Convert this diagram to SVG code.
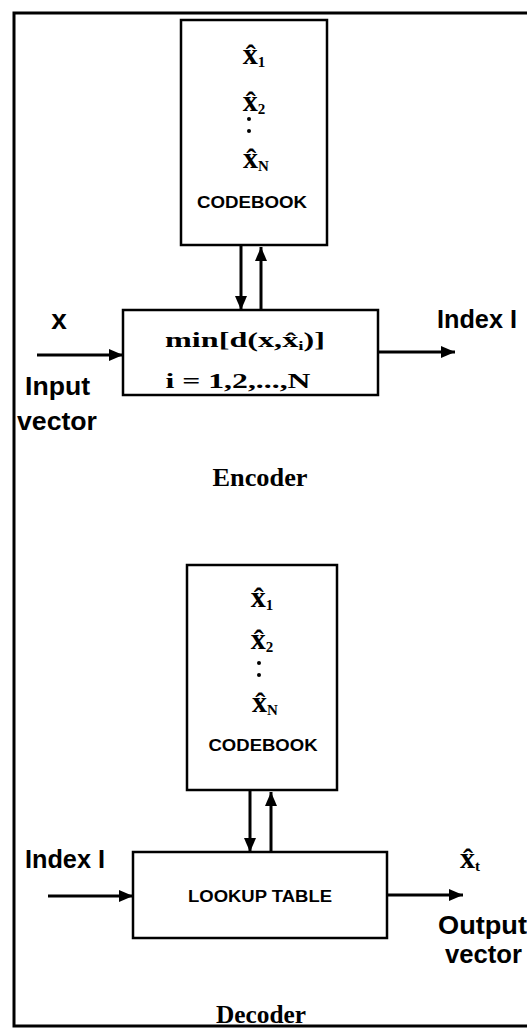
<svg xmlns="http://www.w3.org/2000/svg" width="527" height="1028" viewBox="0 0 527 1028">
<style>
.box{fill:#fff;stroke:#000;stroke-width:2.5}
.wire{stroke:#000;stroke-width:3;fill:none}
.sans{font-family:"Liberation Sans",Arial,sans-serif;font-weight:bold;fill:#000}
.serif{font-family:"Liberation Serif","Times New Roman",serif;font-weight:bold;fill:#000}
.small{font-family:"Liberation Sans",Arial,sans-serif;font-weight:bold;font-size:16px;fill:#000}
.cb{font-family:"Liberation Serif","Times New Roman",serif;font-weight:bold;font-size:30px;fill:#000}
.sub{font-size:15px}
</style>
<defs>
<marker id="ah" viewBox="0 0 14 12" refX="14" refY="6" markerWidth="14" markerHeight="12" markerUnits="userSpaceOnUse" orient="auto">
<path d="M0,0 L14,6 L0,12 Z" fill="#000"/>
</marker>
</defs>
<rect width="527" height="1028" fill="#fff"/>
<path d="M527 13 H14 V1026 H527" fill="none" stroke="#000" stroke-width="3"/>

<g id="enc-codebook">
<rect class="box" x="181" y="20" width="146" height="225"/>
<text class="cb" x="254" y="64" text-anchor="middle">x̂<tspan class="sub" dy="3">1</tspan></text>
<text class="cb" x="254" y="111" text-anchor="middle">x̂<tspan class="sub" dy="3">2</tspan></text>
<circle cx="249" cy="119" r="2"/>
<circle cx="249" cy="131" r="2"/>
<text class="cb" x="256" y="168" text-anchor="middle">x̂<tspan class="sub" dy="3">N</tspan></text>
<text class="small" x="252" y="208" text-anchor="middle" textLength="110" lengthAdjust="spacingAndGlyphs">CODEBOOK</text>
</g>

<g id="enc-box">
<rect class="box" x="123" y="310" width="255" height="85"/>
<text class="serif" x="245" y="347" font-size="22" text-anchor="middle" textLength="160" lengthAdjust="spacingAndGlyphs">min[d(x,x̂<tspan font-size="13" dy="3">i</tspan><tspan dy="-3">)]</tspan></text>
<text class="serif" x="238" y="388" font-size="22" text-anchor="middle" textLength="145" lengthAdjust="spacingAndGlyphs">i = 1,2,...,N</text>
</g>

<g id="enc-labels">
<text class="sans" x="59" y="329" font-size="28" text-anchor="middle">x</text>
<text class="sans" x="25" y="395" font-size="26" textLength="65" lengthAdjust="spacingAndGlyphs">Input</text>
<text class="sans" x="17" y="430" font-size="26" textLength="80" lengthAdjust="spacingAndGlyphs">vector</text>
<text class="sans" x="437" y="328" font-size="26" textLength="80" lengthAdjust="spacingAndGlyphs">Index I</text>
<text class="serif" x="260" y="486" font-size="26" text-anchor="middle" textLength="95" lengthAdjust="spacingAndGlyphs">Encoder</text>
</g>

<g id="dec-codebook">
<rect class="box" x="187" y="565" width="150" height="225"/>
<text class="cb" x="262" y="607" text-anchor="middle">x̂<tspan class="sub" dy="3">1</tspan></text>
<text class="cb" x="262" y="649" text-anchor="middle">x̂<tspan class="sub" dy="3">2</tspan></text>
<circle cx="259" cy="663" r="2"/>
<circle cx="259" cy="675" r="2"/>
<text class="cb" x="265" y="712" text-anchor="middle">x̂<tspan class="sub" dy="3">N</tspan></text>
<text class="small" x="263" y="751" text-anchor="middle" textLength="109" lengthAdjust="spacingAndGlyphs">CODEBOOK</text>
</g>

<g id="dec-box">
<rect class="box" x="133" y="852" width="254" height="86"/>
<text class="small" x="260" y="902" text-anchor="middle" textLength="144" lengthAdjust="spacingAndGlyphs">LOOKUP TABLE</text>
</g>

<g id="dec-labels">
<text class="sans" x="25" y="868" font-size="26" textLength="80" lengthAdjust="spacingAndGlyphs">Index I</text>
<text class="cb" x="470" y="868" text-anchor="middle">x̂<tspan class="sub" dy="3">t</tspan></text>
<text class="sans" x="438" y="934" font-size="26" textLength="89" lengthAdjust="spacingAndGlyphs">Output</text>
<text class="sans" x="445" y="963" font-size="26" textLength="77" lengthAdjust="spacingAndGlyphs">vector</text>
<text class="serif" x="261" y="1023" font-size="26" text-anchor="middle" textLength="90" lengthAdjust="spacingAndGlyphs">Decoder</text>
</g>

<g id="connectors">
<line class="wire" x1="241" y1="245" x2="241" y2="310" marker-end="url(#ah)"/>
<line class="wire" x1="261" y1="310" x2="261" y2="247" marker-end="url(#ah)"/>
<line class="wire" x1="37" y1="355" x2="123" y2="355" marker-end="url(#ah)"/>
<line class="wire" x1="378" y1="352" x2="455" y2="352" marker-end="url(#ah)"/>
<line class="wire" x1="250" y1="790" x2="250" y2="852" marker-end="url(#ah)"/>
<line class="wire" x1="271" y1="852" x2="271" y2="792" marker-end="url(#ah)"/>
<line class="wire" x1="48" y1="896" x2="133" y2="896" marker-end="url(#ah)"/>
<line class="wire" x1="387" y1="895" x2="463" y2="895" marker-end="url(#ah)"/>
</g>
</svg>
